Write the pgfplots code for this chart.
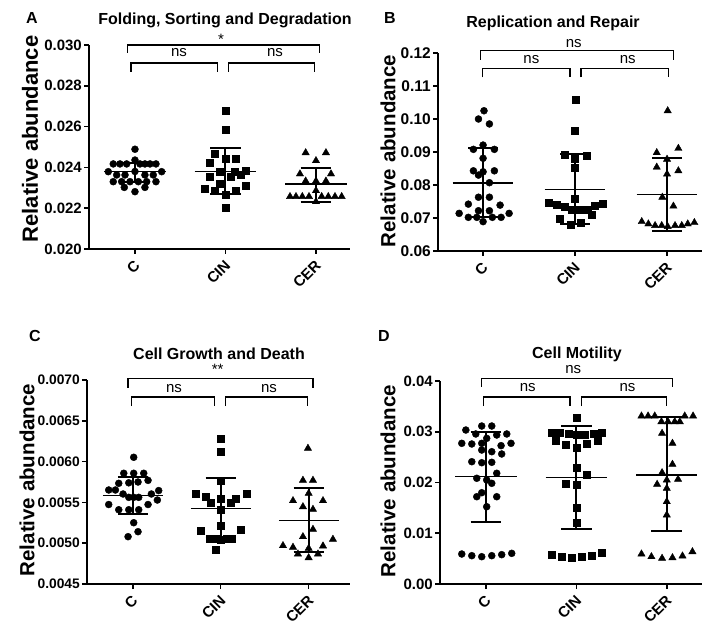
\documentclass[border=0pt]{standalone}
\usepackage{fontspec}
\setmainfont{Liberation Sans}
\usepackage{pgfplots}
\pgfplotsset{compat=1.18}
\tikzset{brk/.style={black, line width=1.2pt}}
\pgfplotsset{
  panel/.style={
    scale only axis, clip=false, anchor=south west,
    axis x line=bottom, axis y line=left,
    axis line style={-, line width=1.6pt},
    every tick/.style={black, line width=1.6pt},
    major tick length=5pt, tick align=outside,
    scaled y ticks=false, scaled x ticks=false,
    xtick={0,1,2}, xticklabels={C,CIN,CER},
    xticklabel style={xshift=3pt, yshift=-8pt, font=\bfseries\fontsize{15}{15}\selectfont, rotate=45, anchor=east, inner sep=1pt},
    yticklabel style={font=\bfseries\fontsize{15}{15}\selectfont, inner sep=2pt},
  },
  dots/.style={only marks, mark=*, mark size=3.5pt, black, mark options={fill=black}},
  sqs/.style={only marks, mark=square*, mark size=3.5pt, black, mark options={fill=black}},
  tris/.style={only marks, mark=triangle*, mark size=4.2pt, black, mark options={fill=black}},
  meanl/.style={black, line width=1.3pt, no marks},
  sdl/.style={black, line width=2pt, no marks},
}
\newcommand\nsfont{\fontsize{15}{15}\selectfont}
\newcommand\ttlfont{\bfseries\fontsize{16}{16}\selectfont}
\begin{document}
\begin{tikzpicture}[x=1pt,y=1pt]
\path[use as bounding box] (0,0) rectangle (702,622);
% ---------------- Panel A ----------------
\begin{axis}[panel, at={(89pt,373pt)}, width=261pt, height=204pt,
  xmin=-0.508, xmax=2.376, ymin=0.020, ymax=0.030,
  ytick={0.020,0.022,0.024,0.026,0.028,0.030},
  yticklabels={0.020,0.022,0.024,0.026,0.028,0.030}]
\addplot[dots] coordinates {(0,0.02489) (0,0.02436)
 (-0.24,0.02417) (-0.166,0.02417) (-0.092,0.02417) (0.055,0.02417) (0.11,0.02417) (0.166,0.02417) (0.232,0.02417)
 (-0.295,0.02379) (0.295,0.02379) (-0.202,0.02363) (-0.11,0.02363) (0.11,0.02363) (0.202,0.02363) (0,0.0238)
 (-0.24,0.0233) (-0.147,0.0233) (-0.055,0.0233) (0.037,0.0233) (0.129,0.0233) (0.232,0.0233)
 (-0.118,0.02302) (0.11,0.02302) (0,0.02281)};
\addplot[sqs] coordinates {(1,0.02678) (1,0.02587) (0.876,0.02466) (1,0.02445) (1.113,0.02445) (0.829,0.02423)
 (0.939,0.02379) (1.105,0.02379) (1.223,0.02384) (1.168,0.02363) (0.829,0.02355) (1.057,0.02355) (0.939,0.02319)
 (1.223,0.02309) (0.766,0.02296) (0.877,0.02286) (1.113,0.02288) (1,0.02265) (1,0.02204)};
\addplot[tris] coordinates {(1.886,0.02472) (2.11,0.02472) (2,0.02433) (1.823,0.02368) (2.166,0.02368) (1.886,0.02333)
 (2,0.02333) (2.11,0.02333) (2,0.02286) (1.713,0.02257) (1.779,0.02257) (1.849,0.02257) (1.923,0.02257) (2.063,0.02257)
 (2.136,0.02257) (2.21,0.02257) (2.284,0.02257) (2,0.02232)};
\addplot[meanl] coordinates {(-0.34,0.02379) (0.34,0.02379)};
\addplot[sdl] coordinates {(0,0.0233) (0,0.0242)};
\addplot[sdl] coordinates {(-0.17,0.0242) (0.17,0.0242)};
\addplot[sdl] coordinates {(-0.17,0.0233) (0.17,0.0233)};
\addplot[meanl] coordinates {(0.66,0.0238) (1.34,0.0238)};
\addplot[sdl] coordinates {(1,0.02268) (1,0.02494)};
\addplot[sdl] coordinates {(0.83,0.02494) (1.17,0.02494)};
\addplot[sdl] coordinates {(0.83,0.02268) (1.17,0.02268)};
\addplot[meanl] coordinates {(1.66,0.02319) (2.34,0.02319)};
\addplot[sdl] coordinates {(2,0.02229) (2,0.02399)};
\addplot[sdl] coordinates {(1.83,0.02399) (2.17,0.02399)};
\addplot[sdl] coordinates {(1.83,0.02229) (2.17,0.02229)};
\draw[brk] (axis cs:-0.08,0.02961) -- (axis cs:-0.08,0.0300) -- (axis cs:2.04,0.0300) -- (axis cs:2.04,0.02961);
\draw[brk] (axis cs:-0.044,0.02868) -- (axis cs:-0.044,0.02912) -- (axis cs:0.91,0.02912) -- (axis cs:0.91,0.02868);
\draw[brk] (axis cs:1.03,0.02868) -- (axis cs:1.03,0.02912) -- (axis cs:1.98,0.02912) -- (axis cs:1.98,0.02868);
\node[font=\nsfont] at (axis cs:0.486,0.02961) {ns};
\node[font=\nsfont] at (axis cs:1.547,0.02961) {ns};
\node[font=\nsfont] at (axis cs:0.95,0.03030) {*};
\end{axis}
% ---------------- Panel B ----------------
\begin{axis}[panel, at={(438pt,371pt)}, width=264pt, height=198pt,
  xmin=-0.49, xmax=2.38, ymin=0.06, ymax=0.12,
  ytick={0.06,0.07,0.08,0.09,0.10,0.11,0.12},
  yticklabels={0.06,0.07,0.08,0.09,0.10,0.11,0.12},
  yticklabel style={font=\bfseries\fontsize{15.5}{15.5}\selectfont}]
\addplot[dots] coordinates {(0.01,0.1025) (-0.05,0.1000) (0.069,0.0985) (0,0.0921) (-0.105,0.0908) (0.123,0.0908)
 (0,0.0881) (-0.105,0.0843) (-0.05,0.0830) (0,0.0840) (0.123,0.0843) (0.069,0.0807) (-0.05,0.0763) (0.069,0.0763)
 (-0.16,0.0742) (0.185,0.0739) (-0.05,0.0722) (0.069,0.0722) (-0.26,0.0714) (0.283,0.0714) (-0.16,0.0702)
 (-0.068,0.0702) (0.101,0.0702) (0.196,0.0702) (0,0.0689)};
\addplot[sqs] coordinates {(1.011,0.1058) (1,0.0965) (0.891,0.0893) (1.127,0.0888) (1,0.0881) (1,0.0851) (1,0.0757)
 (0.71,0.0746) (0.801,0.0741) (1.297,0.0742) (1.217,0.0736) (0.891,0.0734) (0.964,0.0726) (1.054,0.0726)
 (1.138,0.0726) (1.181,0.0711) (0.837,0.0699) (0.957,0.0681) (1.065,0.0686)};
\addplot[tris] coordinates {(2.007,0.1025) (1.888,0.0898) (2.123,0.0911) (2,0.0878) (1.888,0.0854) (2.123,0.0843)
 (2,0.0833) (1.949,0.0763) (2.069,0.0736) (1.725,0.0689) (1.797,0.0682) (1.87,0.0677) (1.942,0.0677) (2.007,0.0674)
 (2.087,0.0677) (2.16,0.0677) (2.225,0.0682) (2.297,0.0686)};
\addplot[meanl] coordinates {(-0.33,0.0806) (0.33,0.0806)};
\addplot[sdl] coordinates {(0,0.0704) (0,0.0911)};
\addplot[sdl] coordinates {(-0.16,0.0911) (0.16,0.0911)};
\addplot[sdl] coordinates {(-0.16,0.0704) (0.16,0.0704)};
\addplot[meanl] coordinates {(0.67,0.0787) (1.33,0.0787)};
\addplot[sdl] coordinates {(1,0.0682) (1,0.0893)};
\addplot[sdl] coordinates {(0.84,0.0893) (1.16,0.0893)};
\addplot[sdl] coordinates {(0.84,0.0682) (1.16,0.0682)};
\addplot[meanl] coordinates {(1.67,0.0772) (2.33,0.0772)};
\addplot[sdl] coordinates {(2,0.0662) (2,0.0881)};
\addplot[sdl] coordinates {(1.84,0.0881) (2.16,0.0881)};
\addplot[sdl] coordinates {(1.84,0.0662) (2.16,0.0662)};
\draw[brk] (axis cs:-0.03,0.1179) -- (axis cs:-0.03,0.1207) -- (axis cs:2.07,0.1207) -- (axis cs:2.07,0.1179);
\draw[brk] (axis cs:-0.01,0.1126) -- (axis cs:-0.01,0.1154) -- (axis cs:0.946,0.1154) -- (axis cs:0.946,0.1126);
\draw[brk] (axis cs:1.065,0.1126) -- (axis cs:1.065,0.1154) -- (axis cs:2.02,0.1154) -- (axis cs:2.02,0.1126);
\node[font=\nsfont] at (axis cs:0.525,0.1179) {ns};
\node[font=\nsfont] at (axis cs:1.573,0.1179) {ns};
\node[font=\nsfont] at (axis cs:0.986,0.1229) {ns};
\end{axis}
% ---------------- Panel C ----------------
\begin{axis}[panel, at={(87pt,38pt)}, width=263pt, height=204pt,
  xmin=-0.52, xmax=2.47, ymin=0.0045, ymax=0.0070,
  ytick={0.0045,0.0050,0.0055,0.0060,0.0065,0.0070},
  yticklabels={0.0045,0.0050,0.0055,0.0060,0.0065,0.0070},
  yticklabel style={font=\bfseries\fontsize{13.8}{13.8}\selectfont}]
\addplot[dots] coordinates {(0.011,0.006053) (-0.102,0.005857) (0.011,0.005857) (0.125,0.005857) (-0.159,0.005734)
 (-0.045,0.00574) (0.06,0.00575) (0.174,0.00577) (-0.273,0.005652) (-0.197,0.005652) (0.295,0.005645) (-0.11,0.005603)
 (0.212,0.005603) (-0.045,0.005562) (0.011,0.005562) (0.068,0.005562) (0.28,0.005529) (-0.273,0.005474) (0.174,0.005474)
 (-0.159,0.00541) (-0.045,0.00541) (0.068,0.00541) (0.011,0.005251) (0.06,0.005141) (-0.053,0.00508)};
\addplot[sqs] coordinates {(1,0.006285) (1,0.006121) (1,0.005766) (0.712,0.005611) (0.826,0.00557) (1.292,0.005603)
 (1.167,0.00555) (1,0.00555) (0.886,0.005496) (1.114,0.005496) (1,0.005407) (1,0.005215) (0.773,0.00515) (1.224,0.00517)
 (0.875,0.00506) (0.951,0.00506) (1.065,0.00506) (1.121,0.00506) (1,0.005039) (0.939,0.004917)};
\addplot[tris] coordinates {(1.992,0.006163) (1.935,0.005771) (2.049,0.005771) (2,0.005611) (1.822,0.005521) (2.163,0.005521)
 (1.935,0.005447) (2.049,0.005415) (2.049,0.00517) (1.935,0.00508) (2.276,0.005048) (1.708,0.00497) (1.822,0.00495)
 (2,0.004937) (2.163,0.004966) (1.878,0.004868) (2.106,0.004868) (2,0.004822)};
\addplot[meanl] coordinates {(-0.34,0.005582) (0.34,0.005582)};
\addplot[sdl] coordinates {(0,0.005358) (0,0.005807)};
\addplot[sdl] coordinates {(-0.17,0.005807) (0.17,0.005807)};
\addplot[sdl] coordinates {(-0.17,0.005358) (0.17,0.005358)};
\addplot[meanl] coordinates {(0.66,0.005428) (1.34,0.005428)};
\addplot[sdl] coordinates {(1,0.005067) (1,0.005795)};
\addplot[sdl] coordinates {(0.83,0.005795) (1.17,0.005795)};
\addplot[sdl] coordinates {(0.83,0.005067) (1.17,0.005067)};
\addplot[meanl] coordinates {(1.66,0.005276) (2.34,0.005276)};
\addplot[sdl] coordinates {(2,0.004888) (2,0.005673)};
\addplot[sdl] coordinates {(1.83,0.005673) (2.17,0.005673)};
\addplot[sdl] coordinates {(1.83,0.004888) (2.17,0.004888)};
\draw[brk] (axis cs:-0.053,0.006906) -- (axis cs:-0.053,0.007016) -- (axis cs:2.05,0.007016) -- (axis cs:2.05,0.006906);
\draw[brk] (axis cs:-0.015,0.006681) -- (axis cs:-0.015,0.006792) -- (axis cs:0.93,0.006792) -- (axis cs:0.93,0.006681);
\draw[brk] (axis cs:1.057,0.006681) -- (axis cs:1.057,0.006792) -- (axis cs:1.99,0.006792) -- (axis cs:1.99,0.006681);
\node[font=\nsfont] at (axis cs:0.469,0.006898) {ns};
\node[font=\nsfont] at (axis cs:1.549,0.006898) {ns};
\node[font=\nsfont] at (axis cs:0.966,0.007135) {**};
\end{axis}
% ---------------- Panel D ----------------
\begin{axis}[panel, at={(440pt,38pt)}, width=262pt, height=203pt,
  xmin=-0.51, xmax=2.39, ymin=0, ymax=0.04,
  ytick={0,0.01,0.02,0.03,0.04},
  yticklabels={0.00,0.01,0.02,0.03,0.04}]
\addplot[dots] coordinates {(-0.048,0.03113) (0.063,0.03113) (-0.224,0.03034) (-0.114,0.02956) (0.007,0.0287) (0.118,0.02936)
 (0.229,0.02956) (-0.269,0.02772) (-0.158,0.02759) (-0.048,0.02772) (0.166,0.02726) (0.276,0.02772) (-0.048,0.0264)
 (0.063,0.02607) (0.173,0.02562) (-0.158,0.0241) (-0.048,0.0239) (0.063,0.02398) (0.118,0.02182) (-0.103,0.02083)
 (0.007,0.0205) (0.063,0.01984) (-0.048,0.01799) (-0.103,0.0172) (0.118,0.0172) (0.007,0.01523) (-0.269,0.00591)
 (-0.158,0.00558) (-0.048,0.00538) (0.063,0.00558) (0.173,0.00578) (0.284,0.00604)};
\addplot[sqs] coordinates {(1.002,0.03284) (0.726,0.02981) (0.818,0.02981) (0.91,0.02955) (1.002,0.0295) (1.094,0.0295)
 (1.186,0.02955) (1.278,0.02981) (0.77,0.02818) (0.884,0.02752) (1.112,0.02766) (1.23,0.02818) (1,0.02686) (1,0.02292)
 (1.112,0.02148) (0.881,0.01984) (1,0.0195) (1,0.01511) (1,0.01208) (0.726,0.00571) (0.836,0.00538) (0.947,0.00526)
 (1.057,0.00538) (1.168,0.00558) (1.278,0.00617)};
\addplot[tris] coordinates {(1.72,0.0331) (1.793,0.0331) (1.867,0.0331) (2.199,0.0331) (2.291,0.0331) (1.941,0.03198)
 (2.014,0.03198) (2.088,0.03198) (2.144,0.03198) (1.948,0.02969) (2.063,0.02772) (2.063,0.02358) (1.948,0.02194)
 (2.125,0.02063) (1.893,0.01964) (2,0.02049) (2,0.01885) (2,0.01622) (2,0.0136) (1.72,0.00591) (1.83,0.00538)
 (1.948,0.00506) (2.063,0.00518) (2.174,0.00552) (2.284,0.00636)};
\addplot[meanl] coordinates {(-0.34,0.02114) (0.34,0.02114)};
\addplot[sdl] coordinates {(0,0.01228) (0,0.02989)};
\addplot[sdl] coordinates {(-0.17,0.02989) (0.17,0.02989)};
\addplot[sdl] coordinates {(-0.17,0.01228) (0.17,0.01228)};
\addplot[meanl] coordinates {(0.66,0.02094) (1.34,0.02094)};
\addplot[sdl] coordinates {(1,0.01078) (1,0.03113)};
\addplot[sdl] coordinates {(0.83,0.03113) (1.17,0.03113)};
\addplot[sdl] coordinates {(0.83,0.01078) (1.17,0.01078)};
\addplot[meanl] coordinates {(1.66,0.02148) (2.34,0.02148)};
\addplot[sdl] coordinates {(2,0.01044) (2,0.03284)};
\addplot[sdl] coordinates {(1.83,0.03284) (2.17,0.03284)};
\addplot[sdl] coordinates {(1.83,0.01044) (2.17,0.01044)};
\draw[brk] (axis cs:-0.048,0.03882) -- (axis cs:-0.048,0.04045) -- (axis cs:2.063,0.04045) -- (axis cs:2.063,0.03882);
\draw[brk] (axis cs:-0.026,0.03507) -- (axis cs:-0.026,0.03685) -- (axis cs:0.928,0.03685) -- (axis cs:0.928,0.03507);
\draw[brk] (axis cs:1.058,0.03507) -- (axis cs:1.058,0.03685) -- (axis cs:2.0,0.03685) -- (axis cs:2.0,0.03507);
\node[font=\nsfont] at (axis cs:0.461,0.03868) {ns};
\node[font=\nsfont] at (axis cs:1.566,0.03868) {ns};
\node[font=\nsfont] at (axis cs:0.964,0.0423) {ns};
\end{axis}
% ---------------- Titles, letters, y labels ----------------
\node[font=\ttlfont] at (225,602) {Folding, Sorting and Degradation};
\node[font=\ttlfont] at (553,599) {Replication and Repair};
\node[font=\ttlfont] at (219,268) {Cell Growth and Death};
\node[font=\ttlfont] at (577,268) {Cell Motility};
\node[font=\ttlfont] at (32,604) {A};
\node[font=\ttlfont] at (390,604) {B};
\node[font=\ttlfont] at (35,286) {C};
\node[font=\ttlfont] at (384,286) {D};
\node[font=\bfseries\fontsize{22}{22}\selectfont, rotate=90] at (30,483) {Relative abundance};
\node[font=\bfseries\fontsize{20.5}{20.5}\selectfont, rotate=90] at (388,471) {Relative abundance};
\node[font=\bfseries\fontsize{20.5}{20.5}\selectfont, rotate=90] at (27,142) {Relative abundance};
\node[font=\bfseries\fontsize{20.5}{20.5}\selectfont, rotate=90] at (388,141) {Relative abundance};
\end{tikzpicture}
\end{document}
